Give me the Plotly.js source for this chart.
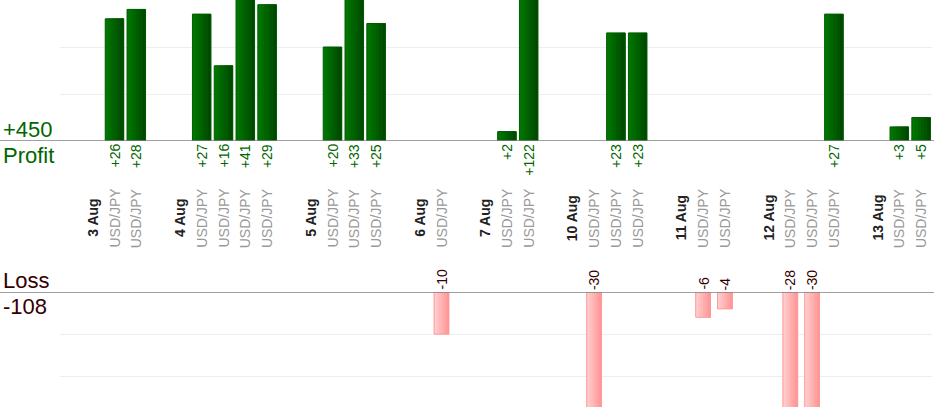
<!DOCTYPE html>
<html>
<head>
<meta charset="utf-8">
<script src="https://cdn.plot.ly/plotly-3.0.1.min.js"></script>
<style>
    html, body { margin: 0; padding: 0; background: #fff; }
    #chart { width: 934px; height: 420px; }
</style>
</head>
<body>
<div id="chart"></div>
<script>
'use strict';

// Trades, in the order they show up on the chart
var tradeDays = ['3 Aug', '3 Aug', '4 Aug', '4 Aug', '4 Aug', '4 Aug', '5 Aug', '5 Aug', '5 Aug',
    '6 Aug', '7 Aug', '7 Aug', '10 Aug', '10 Aug', '10 Aug', '11 Aug', '11 Aug',
    '12 Aug', '12 Aug', '12 Aug', '13 Aug', '13 Aug'];
var tradeSymbols = ['USD/JPY', 'USD/JPY', 'USD/JPY', 'USD/JPY', 'USD/JPY', 'USD/JPY', 'USD/JPY', 'USD/JPY', 'USD/JPY',
    'USD/JPY', 'USD/JPY', 'USD/JPY', 'USD/JPY', 'USD/JPY', 'USD/JPY', 'USD/JPY', 'USD/JPY',
    'USD/JPY', 'USD/JPY', 'USD/JPY', 'USD/JPY', 'USD/JPY'];
var tradeResults = [26, 28, 27, 16, 41, 29, 20, 33, 25,
    -10, 2, 122, -30, 23, 23, -6, -4,
    -28, -30, 27, 3, 5];

var FONT = 'Liberation Sans, Arial, sans-serif';
var GREEN = '#006600';
var MAROON = '#330000';

function signed (v) {
    return v > 0 ? '+' + v : String(v);
}

function mix (a, b, t) {
    var c = [0, 1, 2].map(function (k) {
        return Math.round(a[k] + (b[k] - a[k]) * t);
    });
    return 'rgb(' + c.join(',') + ')';
}

// Plotly has no gradient fill for bars, so stack bars that each run
// from a later left edge to the same right edge, getting darker
function gradientBars (x, y, width, yaxis, from, to, border) {
    var steps = 6;
    var out = [];
    for (var k = 0; k < steps; ++k) {
        out.push({
            type: 'bar', x: x, y: y,
            width: width - k * width / steps,
            offset: -width / 2 + k * width / steps,
            xaxis: 'x', yaxis: yaxis,
            marker: { color: mix(from, to, k / (steps - 1)), line: { width: 0 } },
            hoverinfo: 'none'
        });
    }
    out.push({
        type: 'bar', x: x, y: y, width: width, offset: -width / 2,
        xaxis: 'x', yaxis: yaxis,
        marker: { color: 'rgba(0,0,0,0)', line: { color: border, width: 1 } },
        hoverinfo: 'none'
    });
    return out;
}

function draw (node) {

    // Slot layout: an empty slot and a date slot before every new day
    var slot = 0;
    var prevDay = null;
    var xProfit = [], yProfit = [];
    var xLoss = [], yLoss = [];
    var annotations = [];
    var totalProfit = 0, totalLoss = 0;
    var labelY = (420 - 218) / 420;

    for (var i = 0; i < tradeResults.length; ++i) {
        if (tradeDays[i] !== prevDay) {
            slot += 1; // gap
            annotations.push({
                xref: 'x', yref: 'paper', x: slot, y: labelY,
                xanchor: 'center', yanchor: 'middle', textangle: -90,
                text: '<b>' + tradeDays[i] + '</b>', showarrow: false,
                font: { family: FONT, size: 14, color: '#222222' }
            });
            slot += 1;
            prevDay = tradeDays[i];
        }

        annotations.push({
            xref: 'x', yref: 'paper', x: slot, y: labelY,
            xanchor: 'center', yanchor: 'middle', textangle: -90,
            text: tradeSymbols[i], showarrow: false,
            font: { family: FONT, size: 14, color: '#999999' }
        });

        var value = tradeResults[i];
        if (value >= 0) {
            xProfit.push(slot);
            yProfit.push(value);
            totalProfit += value;
            annotations.push({
                xref: 'x', yref: 'y', x: slot, y: 0,
                xanchor: 'center', yanchor: 'top', textangle: -90, yshift: -1,
                text: signed(value), showarrow: false,
                font: { family: FONT, size: 14, color: GREEN }
            });
        } else {
            xLoss.push(slot);
            yLoss.push(value);
            totalLoss += value;
            annotations.push({
                xref: 'x', yref: 'y2', x: slot, y: 0,
                xanchor: 'center', yanchor: 'bottom', textangle: -90, yshift: 0,
                text: signed(value), showarrow: false,
                font: { family: FONT, size: 14, color: MAROON }
            });
        }
        slot += 1;
    }

    // Totals on the left
    var leftShift = -59;
    annotations.push(
        { xref: 'paper', yref: 'y', x: 0, y: 0, xshift: leftShift, yshift: -3, xanchor: 'left', yanchor: 'bottom',
            text: signed(totalProfit), showarrow: false, font: { family: FONT, size: 22, color: GREEN } },
        { xref: 'paper', yref: 'y', x: 0, y: 0, xshift: leftShift, xanchor: 'left', yanchor: 'top',
            text: 'Profit', showarrow: false, font: { family: FONT, size: 22, color: GREEN } },
        { xref: 'paper', yref: 'y2', x: 0, y: 0, xshift: leftShift, yshift: -3, xanchor: 'left', yanchor: 'bottom',
            text: 'Loss', showarrow: false, font: { family: FONT, size: 22, color: MAROON } },
        { xref: 'paper', yref: 'y2', x: 0, y: 0, xshift: leftShift, xanchor: 'left', yanchor: 'top',
            text: String(totalLoss), showarrow: false, font: { family: FONT, size: 22, color: MAROON } }
    );

    var traces = gradientBars(xProfit, yProfit, 0.85, 'y', [0, 118, 0], [0, 74, 0], '#005a00')
        .concat(gradientBars(xLoss, yLoss, 0.68, 'y2', [255, 204, 204], [255, 152, 152], '#ff9999'));

    var zeroLine = function (yref) {
        return {
            type: 'line', xref: 'paper', yref: yref,
            x0: -60 / 872, x1: 1 + 2 / 872, y0: 0, y1: 0,
            line: { color: '#808080', width: 1.5 }
        };
    };

    Plotly.newPlot(node, traces, {
        width: 934,
        height: 420,
        showlegend: false,
        barmode: 'overlay',
        paper_bgcolor: '#ffffff',
        plot_bgcolor: '#ffffff',
        margin: { t: 0, b: 0, l: 60, r: 2 },
        xaxis: {
            range: [-0.5, slot - 0.5],
            showgrid: false, zeroline: false, showline: false,
            showticklabels: false, ticks: ''
        },
        yaxis: {
            domain: [(420 - 141) / 420, 1],
            range: [0, 30],
            dtick: 10,
            gridcolor: '#eeeeee',
            zeroline: false, showline: false, showticklabels: false, ticks: ''
        },
        yaxis2: {
            domain: [13 / 420, 128 / 420],
            range: [-27.3, 0],
            dtick: 10,
            gridcolor: '#eeeeee',
            zeroline: false, showline: false, showticklabels: false, ticks: ''
        },
        annotations: annotations,
        shapes: [zeroLine('y'), zeroLine('y2')],
        hovermode: false
    }, { displayModeBar: false, staticPlot: true });
}

draw(document.getElementById('chart'));
</script>
</body>
</html>
